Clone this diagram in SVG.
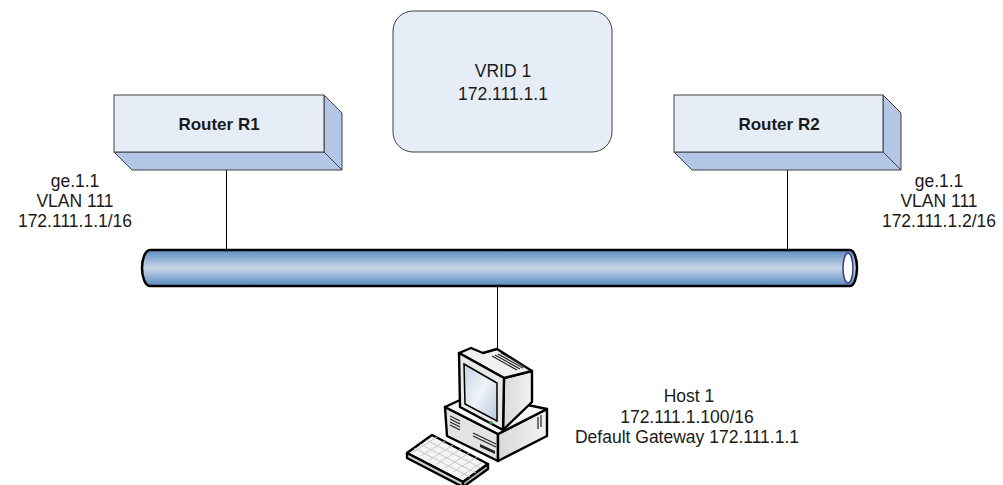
<svg xmlns="http://www.w3.org/2000/svg" width="1003" height="485" viewBox="0 0 1003 485">
  <defs>
    <linearGradient id="busFill" x1="0" y1="0" x2="0" y2="1">
      <stop offset="0" stop-color="#5b8cc2"/>
      <stop offset="0.5" stop-color="#c9d6e8"/>
      <stop offset="1" stop-color="#5889c0"/>
    </linearGradient>
    <linearGradient id="screenFill" x1="0" y1="0" x2="1" y2="1">
      <stop offset="0" stop-color="#c4d3e4"/>
      <stop offset="0.5" stop-color="#eef3f8"/>
      <stop offset="1" stop-color="#b8c8dc"/>
    </linearGradient>
    <linearGradient id="caseSide" x1="0" y1="0" x2="1" y2="0">
      <stop offset="0" stop-color="#d9d9d9"/>
      <stop offset="1" stop-color="#f2f2f2"/>
    </linearGradient>
    <style>
      .front { fill: #e7edf7; stroke: #404040; stroke-width: 1; }
      .side { fill: #b3c6e5; stroke: #404040; stroke-width: 1; stroke-linejoin: round; }
      .label { font-family: "Liberation Sans", Arial, sans-serif; font-size: 17.5px; fill: #1a1a1a; text-anchor: middle; }
      .title { font-family: "Liberation Sans", Arial, sans-serif; font-size: 17px; font-weight: bold; fill: #1a1a1a; text-anchor: middle; }
      .link { stroke: #000; stroke-width: 1; fill: none; }
      .pc { stroke: #000; stroke-width: 2.4; stroke-linejoin: round; }
      .vent { stroke: #222; stroke-width: 1.2; fill: none; }
    </style>
  </defs>

  <!-- connectors -->
  <g id="connectors">
    <line class="link" x1="226.5" y1="170" x2="226.5" y2="250"/>
    <line class="link" x1="787.5" y1="170" x2="787.5" y2="250"/>
    <line class="link" x1="497.5" y1="286" x2="497.5" y2="351"/>
  </g>

  <!-- shared segment (bus) -->
  <g id="bus">
    <path d="M150,250 H850 A7,18 0 0 1 850,286 H150 A8,18 0 0 1 150,250 Z" fill="url(#busFill)" stroke="#000" stroke-width="2.5"/>
    <ellipse cx="848" cy="268" rx="5" ry="15" fill="#fff" stroke="#3a3a86" stroke-width="1.5"/>
  </g>

  <!-- router R1 -->
  <g id="router-r1">
    <polygon class="side" points="114,152 324,152 342,170 132,170"/>
    <polygon class="side" points="324,95 342,113 342,170 324,152"/>
    <rect class="front" x="114" y="95" width="210" height="57"/>
    <text class="title" x="219" y="130">Router R1</text>
  </g>

  <!-- router R2 -->
  <g id="router-r2">
    <polygon class="side" points="674,152 883,152 901,170 692,170"/>
    <polygon class="side" points="883,95 901,113 901,170 883,152"/>
    <rect class="front" x="674" y="95" width="209" height="57"/>
    <text class="title" x="779" y="130">Router R2</text>
  </g>

  <!-- virtual router -->
  <g id="vrid">
    <rect x="393" y="11" width="219" height="141" rx="20" ry="20" fill="#e7edf7" stroke="#404040" stroke-width="1"/>
    <text class="label" x="503" y="77">VRID 1</text>
    <text class="label" x="503" y="100">172.111.1.1</text>
  </g>

  <!-- interface labels -->
  <g id="r1-iface">
    <text class="label" x="75" y="187">ge.1.1</text>
    <text class="label" x="75" y="207">VLAN 111</text>
    <text class="label" x="75" y="227">172.111.1.1/16</text>
  </g>
  <g id="r2-iface">
    <text class="label" x="939" y="187">ge.1.1</text>
    <text class="label" x="939" y="207">VLAN 111</text>
    <text class="label" x="939" y="227">172.111.1.2/16</text>
  </g>

  <!-- host computer -->
  <g id="host-1">
    <!-- keyboard -->
    <polygon class="pc" points="407,453 432,435 488,464 463,482" fill="#f4f4f4"/>
    <polygon class="pc" points="407,453 463,482 463,487 407,458" fill="#d0d0d0"/>
    <polygon class="pc" points="463,482 488,464 488,469 463,487" fill="#bdbdbd"/>
    <g stroke="#c8c8c8" stroke-width="1" fill="none">
      <line x1="413" y1="452" x2="437" y2="437"/>
      <line x1="421" y1="456" x2="445" y2="441"/>
      <line x1="429" y1="460" x2="453" y2="445"/>
      <line x1="437" y1="464" x2="461" y2="449"/>
      <line x1="445" y1="468" x2="469" y2="453"/>
      <line x1="453" y1="472" x2="477" y2="457"/>
      <line x1="461" y1="476" x2="483" y2="462"/>
      <line x1="414" y1="448" x2="470" y2="477"/>
      <line x1="420" y1="444" x2="476" y2="473"/>
      <line x1="426" y1="440" x2="481" y2="468"/>
    </g>
    <!-- case -->
    <polygon class="pc" points="445,407 498,434 498,461 447,436" fill="#e3e3e3"/>
    <polygon class="pc" points="498,434 547,409 547,436 498,461" fill="url(#caseSide)"/>
    <polygon class="pc" points="445,407 473,394 547,409 498,434" fill="#f7f7f7"/>
    <g class="vent">
      <line x1="450" y1="416" x2="460" y2="421"/>
      <line x1="450" y1="419" x2="460" y2="424"/>
      <line x1="450" y1="422" x2="460" y2="427"/>
      <line x1="450" y1="425" x2="460" y2="430"/>
      <line x1="473" y1="433" x2="496" y2="444"/>
      <line x1="473" y1="436" x2="496" y2="447"/>
      <line x1="538" y1="417" x2="538" y2="429"/>
      <line x1="541" y1="415" x2="541" y2="427"/>
    </g>
    <polygon points="480,444 495,451 495,454 480,447" fill="#222"/>
    <!-- monitor body -->
    <polygon class="pc" points="504,378 532,371 532,402 503,430" fill="url(#caseSide)"/>
    <polygon class="pc" points="459,353 471,348 483,353 497,349 532,371 504,378" fill="#f0f0f0"/>
    <g class="vent">
      <line x1="492" y1="356" x2="517" y2="370"/>
      <line x1="495" y1="355" x2="520" y2="369"/>
      <line x1="498" y1="354" x2="523" y2="368"/>
      <line x1="501" y1="353" x2="526" y2="367"/>
    </g>
    <polygon class="pc" points="459,353 504,378 503,430 460,407" fill="#e8e8e8"/>
    <polygon points="464,364 497,383 497,421 465,404" fill="url(#screenFill)" stroke="#000" stroke-width="1.5"/>
    <circle cx="491" cy="423" r="1.8" fill="#2f9a3a"/>
    <text class="label" x="689" y="402">Host 1</text>
    <text class="label" x="687" y="423">172.111.1.100/16</text>
    <text class="label" x="687" y="443">Default Gateway 172.111.1.1</text>
  </g>
</svg>
